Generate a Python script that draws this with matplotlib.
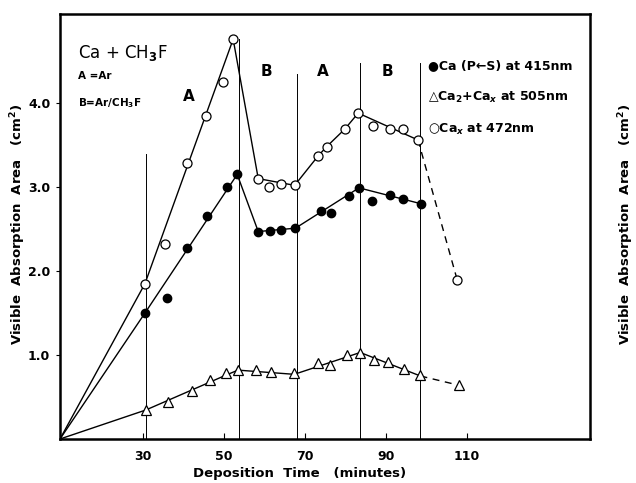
import matplotlib
matplotlib.use("Agg")
import matplotlib.pyplot as plt

plt.rcParams['font.family'] = ['DejaVu Sans']
plt.rcParams['font.weight'] = 'bold'

# Cax at 472nm (open circles)
cax_t = [30.5, 35.4, 41.0, 45.6, 49.7, 52.3, 58.5, 61.1, 64.2, 67.5,
         73.3, 75.4, 79.9, 83.2, 86.9, 91.0, 94.3, 98.0, 107.7]
cax_v = [1.85, 2.32, 3.29, 3.85, 4.25, 4.76, 3.10, 3.00, 3.04, 3.02,
         3.37, 3.48, 3.69, 3.88, 3.73, 3.69, 3.69, 3.56, 1.89]
cax_fit_t = [9.5, 30.5, 52.3, 58.5, 67.5, 73.3, 75.4, 79.9, 83.2, 98.0]
cax_fit_v = [0, 1.85, 4.76, 3.10, 3.02, 3.37, 3.48, 3.69, 3.88, 3.56]
cax_dash_t = [98.0, 107.7]
cax_dash_v = [3.56, 1.89]

# Ca(P<-S) at 415nm (filled circles)
ca_t = [30.5, 36.0, 41.0, 45.9, 50.8, 53.3, 58.5, 61.5, 64.2, 67.7,
        74.1, 76.4, 80.9, 83.4, 86.5, 91.0, 94.3, 98.8]
ca_v = [1.50, 1.68, 2.27, 2.65, 3.00, 3.15, 2.47, 2.48, 2.49, 2.51,
        2.72, 2.69, 2.89, 2.99, 2.83, 2.90, 2.86, 2.80]
ca_fit_t = [9.5, 30.5, 53.3, 58.5, 67.7, 83.4, 98.8]
ca_fit_v = [0, 1.50, 3.15, 2.47, 2.51, 2.99, 2.80]

# Ca2 + Cax at 505nm (open triangles)
ca2_t = [30.7, 36.1, 42.2, 46.5, 50.5, 53.5, 57.9, 61.6, 67.4, 73.3,
         76.3, 80.4, 83.7, 87.0, 90.6, 94.5, 98.6, 108.1]
ca2_v = [0.345, 0.44, 0.575, 0.70, 0.78, 0.82, 0.82, 0.80, 0.78, 0.90,
         0.88, 1.00, 1.02, 0.94, 0.92, 0.83, 0.76, 0.64]
ca2_fit_t = [9.5, 30.7, 50.5, 53.5, 67.4, 83.7, 98.6]
ca2_fit_v = [0, 0.345, 0.76, 0.82, 0.77, 1.03, 0.75]
ca2_dash_t = [98.6, 108.1]
ca2_dash_v = [0.75, 0.64]

# matrix switch times
switch_t = [30.7, 53.8, 68.0, 83.7, 98.6]
switch_top = [3.39, 4.76, 4.35, 4.48, 4.48]
region_labels = ["A", "B", "A", "B"]
region_t = [41.4, 60.6, 74.4, 90.5]
region_v = [4.08, 4.37, 4.37, 4.37]

xticks = [30, 50, 70, 90, 110]
yticks = [1.0, 2.0, 3.0, 4.0]

fig = plt.figure(figsize=(6.36, 4.83), dpi=100)
ax = fig.add_axes([60 / 636, 44 / 483, 530 / 636, 425 / 483])

for t, top in zip(switch_t, switch_top):
    ax.plot([t, t], [0, top], color='black', lw=0.7)

ax.plot(cax_fit_t, cax_fit_v, color='black', lw=1.0)
ax.plot(cax_dash_t, cax_dash_v, color='black', lw=1.0, ls=(0, (5, 4)))
ax.plot(ca_fit_t, ca_fit_v, color='black', lw=1.0)
ax.plot(ca2_fit_t, ca2_fit_v, color='black', lw=1.0)
ax.plot(ca2_dash_t, ca2_dash_v, color='black', lw=1.0, ls=(0, (5, 4)))

ax.plot(cax_t, cax_v, 'o', ms=6.5, mfc='white', mec='black', mew=0.9)
ax.plot(ca_t, ca_v, 'o', ms=6, mfc='black', mec='black')
ax.plot(ca2_t, ca2_v, '^', ms=7, mfc='white', mec='black', mew=0.9)

for lab, t, v in zip(region_labels, region_t, region_v):
    ax.text(t, v, lab, fontsize=11, ha='center', va='center')

ax.text(14, 4.6, "Ca + CH$_3$F", fontsize=12, va='center', fontweight='normal')
ax.text(14, 4.32, "A =Ar", fontsize=7.5, va='center')
ax.text(14, 4.0, "B=Ar/CH$_3$F", fontsize=7.5, va='center')

ax.text(100.4, 4.44, "\u25cfCa (P\u2190S) at 415nm", fontsize=9, va='center')
ax.text(100.4, 4.07, "\u25b3Ca$_2$+Ca$_x$ at 505nm", fontsize=9, va='center')
ax.text(100.4, 3.69, "\u25cbCa$_x$ at 472nm", fontsize=9, va='center')

ax.set_xlim(9.5, 140.5)
ax.set_ylim(0, 5.06)
ax.set_xticks(xticks)
ax.set_xticklabels([str(x) for x in xticks])
ax.set_yticks(yticks)
ax.set_yticklabels(["%.1f" % y for y in yticks])
ax.tick_params(axis='x', direction='in', length=4, labelsize=9, pad=8)
ax.tick_params(axis='y', direction='out', length=3, labelsize=9, pad=4)
for s in ax.spines.values():
    s.set_linewidth(1.8)

ylab = "Visible  Absorption  Area   (cm$^2$)"
fig.text(300 / 636, 1 - 473 / 483, "Deposition  Time   (minutes)", fontsize=9.5,
         ha='center', va='center')
fig.text(18 / 636, 1 - 224 / 483, ylab, fontsize=9.5,
         rotation=90, ha='center', va='center')
fig.text(626 / 636, 1 - 224 / 483, ylab, fontsize=9.5,
         rotation=90, ha='center', va='center')

fig.savefig("out.png", dpi=100)
